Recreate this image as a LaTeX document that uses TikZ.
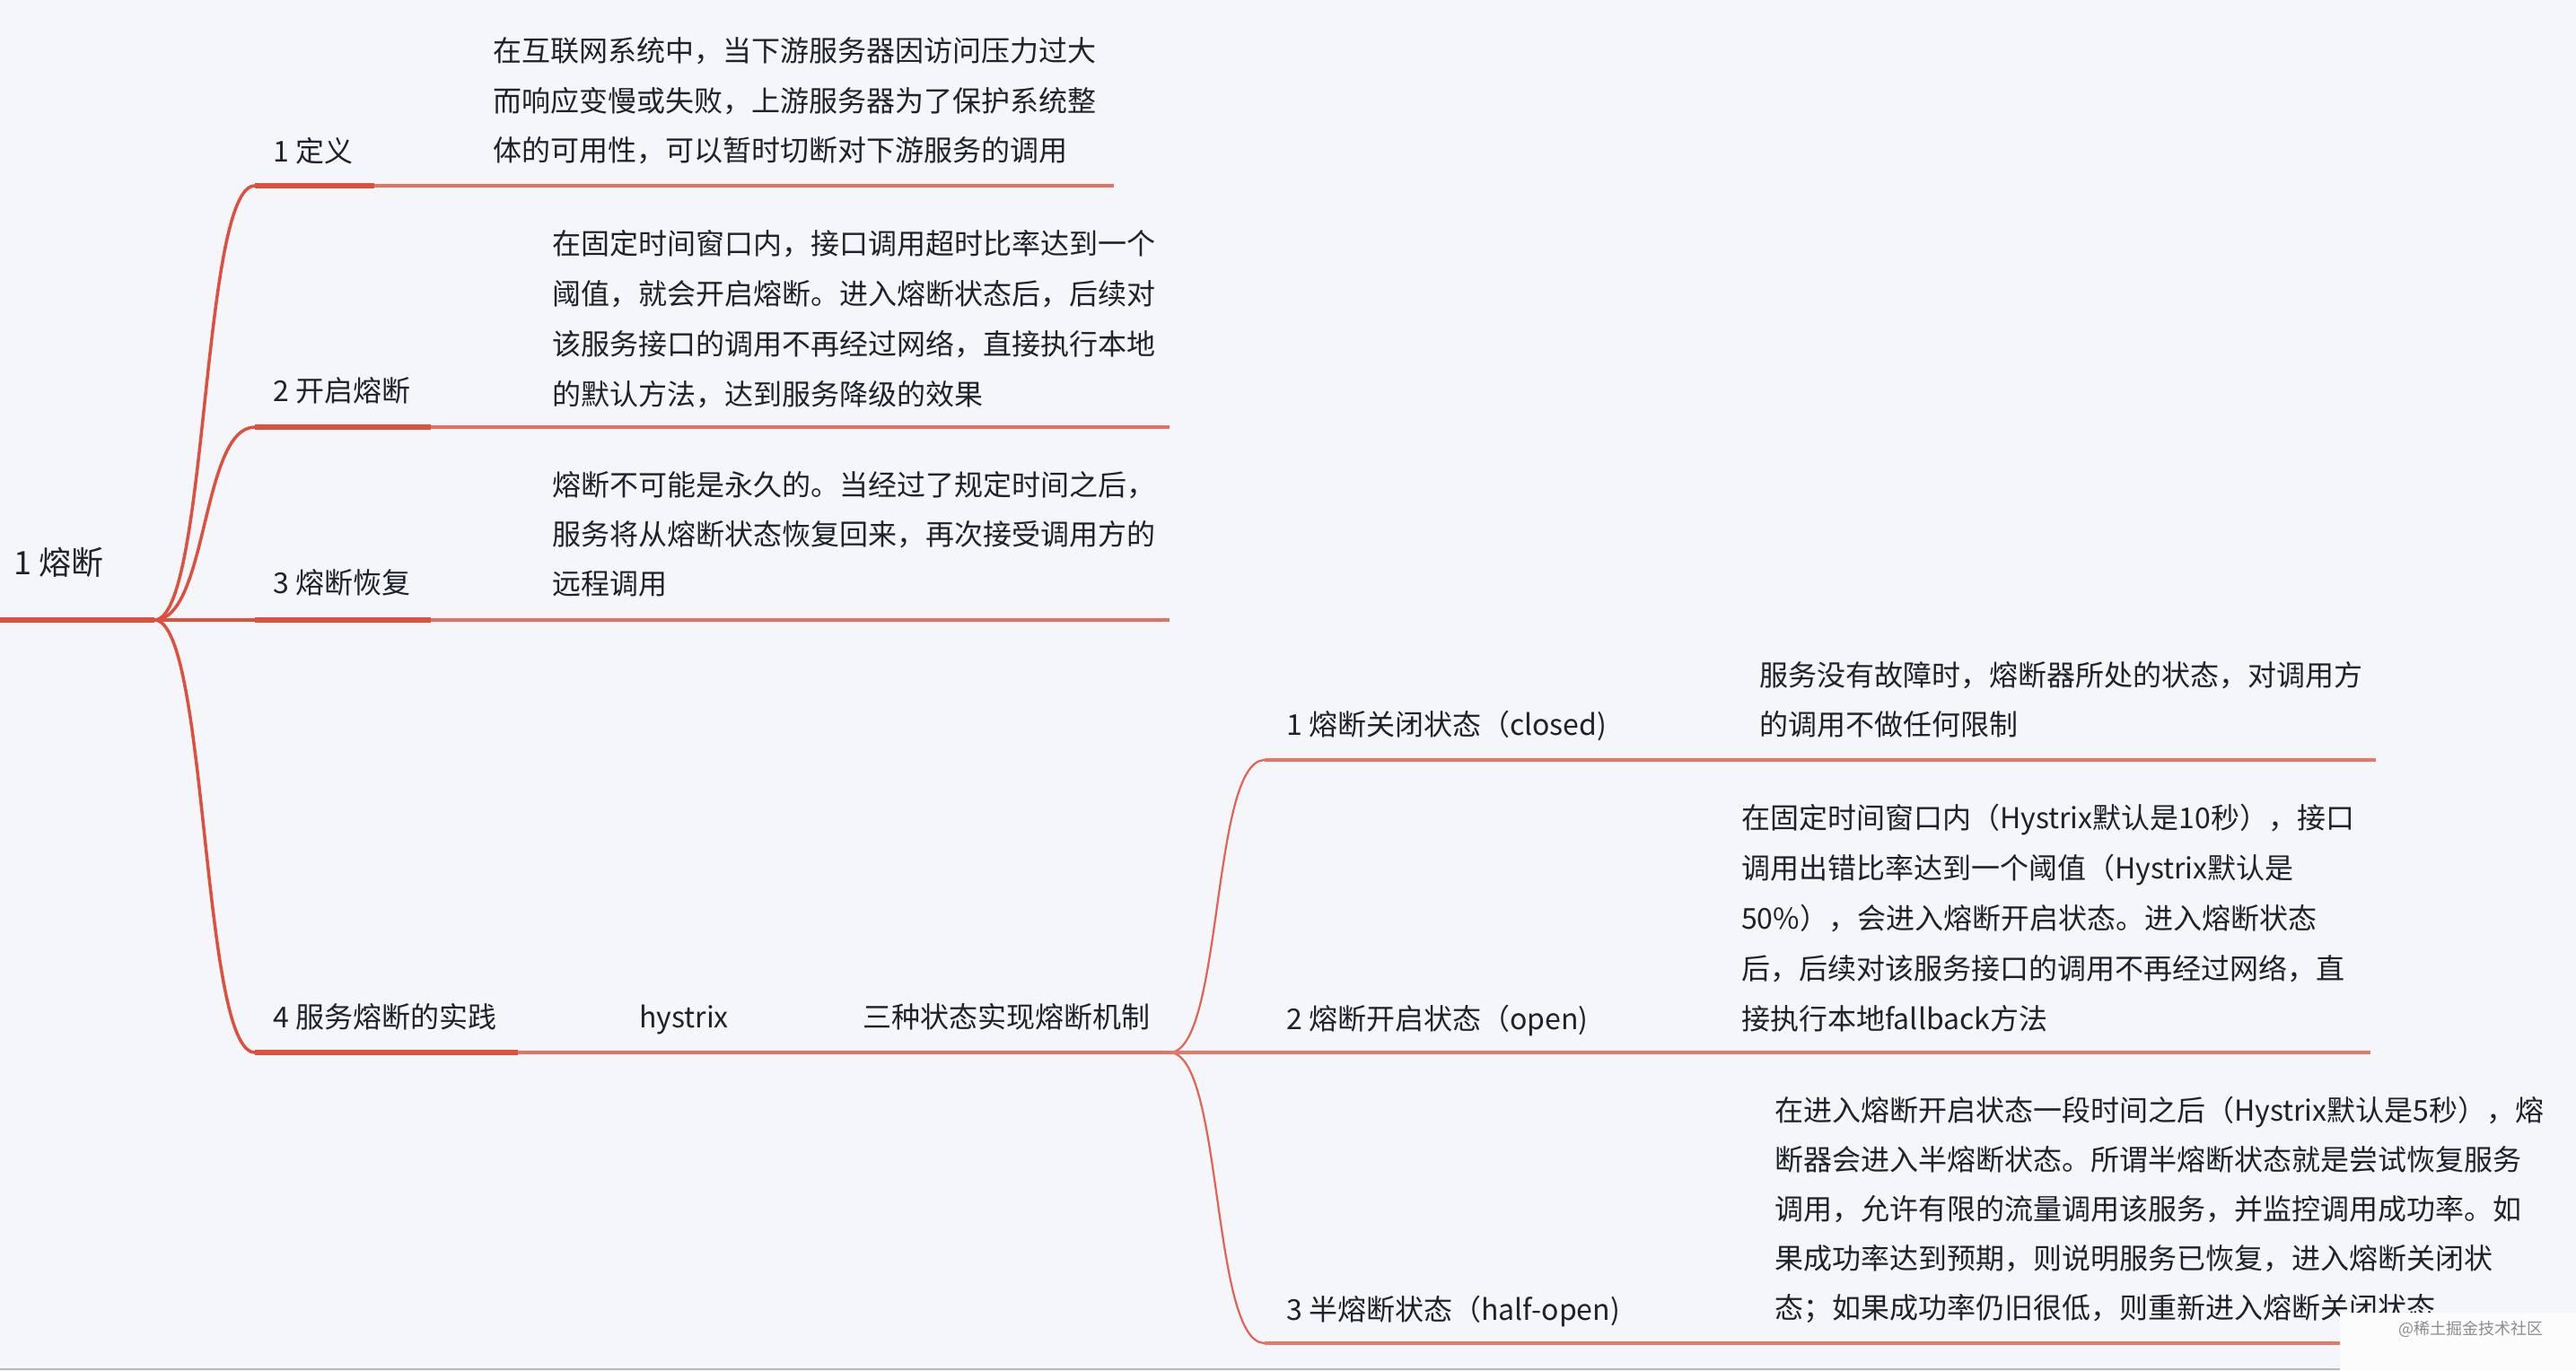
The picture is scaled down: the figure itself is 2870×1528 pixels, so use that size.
\documentclass[tikz,border=0pt]{standalone}
\usepackage{fontspec}
\setmainfont{Noto Sans CJK SC}
\definecolor{bgc}{RGB}{245,246,250}
\definecolor{txt}{RGB}{30,34,44}
\definecolor{redA}{RGB}{221,80,63}
\definecolor{redB}{RGB}{231,112,98}
\definecolor{redC}{RGB}{232,118,105}
\definecolor{redD}{RGB}{226,98,86}
\definecolor{wmk}{RGB}{140,140,145}
\begin{document}
\begin{tikzpicture}[x=1pt,y=-1pt,
  desc/.style={anchor=base west, inner sep=0pt, text=txt, font=\fontsize{32pt}{40pt}\selectfont},
  lab/.style={anchor=base west, inner sep=0pt, text=txt, font=\fontsize{32pt}{40pt}\selectfont},
  rootlab/.style={anchor=base west, inner sep=0pt, text=txt, font=\fontsize{36pt}{44pt}\selectfont},
  thickseg/.style={draw=redA, line width=5.5pt},
  thinseg/.style={draw=redB, line width=3.8pt},
  curveA/.style={draw=redA, line width=3.5pt},
  l3line/.style={draw=redC, line width=4.2pt},
  l3curve/.style={draw=redD, line width=2.2pt},
  wm/.style={anchor=base west, inner sep=0pt, text=wmk, font=\fontsize{18pt}{22pt}\selectfont}]
\useasboundingbox (0,0) rectangle (2870,1528);
\fill[bgc] (0,0) rectangle (2870,1528);
\draw[gray!55, line width=2pt] (0,1526) -- (2607,1526);

% coordinates
\coordinate (R0) at (0,691);
\coordinate (J0) at (172,691);
\coordinate (s1) at (284,207);  \coordinate (t1) at (417,207);  \coordinate (e1) at (1241,207);
\coordinate (s2) at (284,476);  \coordinate (t2) at (480,476);  \coordinate (e2) at (1303,476);
\coordinate (s3) at (284,691);  \coordinate (t3) at (480,691);  \coordinate (e3) at (1303,691);
\coordinate (s4) at (284,1173); \coordinate (t4) at (577,1173);
\coordinate (J1) at (1303,1173);
\coordinate (c1s) at (1409,847);  \coordinate (c1e) at (2647,847);
\coordinate (c2e) at (2641,1173);
\coordinate (c3s) at (1409,1497); \coordinate (c3e) at (2607,1497);

% level 1 connectors
\draw[thickseg] (R0) -- (J0);
\draw[curveA] (J0) .. controls +(60,0) and +(-60,0) .. (s1);
\draw[curveA] (J0) .. controls +(60,0) and +(-60,0) .. (s2);
\draw[curveA] (J0) .. controls +(60,0) and +(-60,0) .. (s4);
\draw[curveA] (J0) -- (s3);
\draw[thinseg] (t1) -- (e1);
\draw[thinseg] (t2) -- (e2);
\draw[thinseg] (t3) -- (e3);
\draw[thinseg] (t4) -- (J1);
\draw[thickseg] (s1) -- (t1);
\draw[thickseg] (s2) -- (t2);
\draw[thickseg] (s3) -- (t3);
\draw[thickseg] (s4) -- (t4);

% level 3 connectors
\draw[l3curve] (J1) .. controls +(60,0) and +(-60,0) .. (c1s);
\draw[l3curve] (J1) .. controls +(60,0) and +(-60,0) .. (c3s);
\draw[l3line] (c1s) -- (c1e);
\draw[l3line] (J1) -- (c2e);
\draw[l3line] (c3s) -- (c3e);

% labels
\node[rootlab] (root) at (15,640) {1 熔断};
\node[lab] (L1) at (304,180) {1 定义};
\node[lab] (L2) at (304,447) {2 开启熔断};
\node[lab] (L3) at (304,661) {3 熔断恢复};
\node[lab] (L4) at (304,1145) {4 服务熔断的实践};
\node[lab] (hy) at (712,1145) {hystrix};
\node[lab] (three) at (961,1145) {三种状态实现熔断机制};
\node[lab] (S1) at (1433,819) {1 熔断关闭状态（closed)};
\node[lab] (S2) at (1433,1147) {2 熔断开启状态（open)};
\node[lab] (S3) at (1433,1471) {3 半熔断状态（half-open)};

% descriptions
\foreach \t [count=\i] in {{在互联网系统中，当下游服务器因访问压力过大},{而响应变慢或失败，上游服务器为了保护系统整},{体的可用性，可以暂时切断对下游服务的调用}}
  \node[desc] (da-\i) at (549,{69+55*(\i-1)}) {\t};
\foreach \t [count=\i] in {{在固定时间窗口内，接口调用超时比率达到一个},{阈值，就会开启熔断。进入熔断状态后，后续对},{该服务接口的调用不再经过网络，直接执行本地},{的默认方法，达到服务降级的效果}}
  \node[desc] (db-\i) at (615,{283+56*(\i-1)}) {\t};
\foreach \t [count=\i] in {{熔断不可能是永久的。当经过了规定时间之后，},{服务将从熔断状态恢复回来，再次接受调用方的},{远程调用}}
  \node[desc] (dc-\i) at (615,{552+55*(\i-1)}) {\t};
\foreach \t [count=\i] in {{服务没有故障时，熔断器所处的状态，对调用方},{的调用不做任何限制}}
  \node[desc] (dd-\i) at (1960,{764+55*(\i-1)}) {\t};
\foreach \t [count=\i] in {{在固定时间窗口内（Hystrix默认是10秒），接口},{调用出错比率达到一个阈值（Hystrix默认是},{50\%），会进入熔断开启状态。进入熔断状态},{后，后续对该服务接口的调用不再经过网络，直},{接执行本地fallback方法}}
  \node[desc] (de-\i) at (1940,{923+56*(\i-1)}) {\t};
\foreach \t [count=\i] in {{在进入熔断开启状态一段时间之后（Hystrix默认是5秒），熔},{断器会进入半熔断状态。所谓半熔断状态就是尝试恢复服务},{调用，允许有限的流量调用该服务，并监控调用成功率。如},{果成功率达到预期，则说明服务已恢复，进入熔断关闭状},{态；如果成功率仍旧很低，则重新进入熔断关闭状态}}
  \node[desc] (df-\i) at (1977,{1249+55*(\i-1)}) {\t};

% watermark box
\coordinate (wb) at (2607,1463);
\coordinate (wc) at (2870,1528);
\fill[white!70!bgc] (wb) rectangle (wc);
\node[wm] (wmark) at (2672,1487) {@稀土掘金技术社区};
\end{tikzpicture}
\end{document}
